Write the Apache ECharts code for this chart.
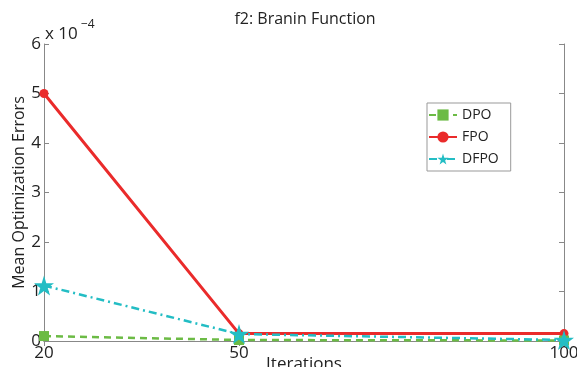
<!DOCTYPE html>
<html>
<head>
<meta charset="utf-8">
<script src="https://cdn.jsdelivr.net/npm/echarts@6/dist/echarts.min.js"></script>
<style>html,body{margin:0;padding:0;background:#fff}#c{width:577px;height:367px}</style>
</head>
<body>
<div id="c"></div>
<script>
// values in units of 10^-4
var iterations = [20, 50, 100];
var dpo = [0.10, 0.02, 0.01];
var fpo = [5.0, 0.15, 0.15];
var dfpo = [1.12, 0.14, 0.02];
var seriesNames = ['DPO', 'FPO', 'DFPO'];
var yTicks = [0, 1, 2, 3, 4, 5, 6];

var FONT = 'Open Sans';
var star = 'path://M50,0 L61,35 L98,35 L68,57 L79,91 L50,70 L21,91 L32,57 L2,35 L39,35 Z';
function pts(arr){ return iterations.map(function(x,i){ return [x, arr[i]]; }); }

var chart = echarts.init(document.getElementById('c'), null, {renderer:'canvas'});
var axisLine = {lineStyle:{color:'#888', width:1}};
chart.setOption({
  animation:false,
  backgroundColor:'#fff',
  title:{text:'f2: Branin Function', left:300, textAlign:'center', top:6,
    textStyle:{fontFamily:FONT, fontSize:16, fontWeight:'normal', color:'#222'}},
  grid:{left:44, right:13, top:44, bottom:26, outerBoundsMode:'none', containLabel:false},
  legend:{
    orient:'vertical', left:427, top:103,
    data:seriesNames,
    borderColor:'#999', borderWidth:1, borderRadius:0,
    padding:[5,12,5,1], itemGap:8, itemWidth:28, itemHeight:14,
    backgroundColor:'#fff',
    textStyle:{fontFamily:FONT, fontSize:14, color:'#222'}
  },
  xAxis:[{
    type:'value', min:20, max:100, position:'bottom',
    name:'Iterations', nameLocation:'middle', nameGap:15, nameMoveOverlap:false,
    nameTextStyle:{fontFamily:FONT, fontSize:17, color:'#222'},
    axisLine:axisLine, splitLine:{show:false},
    axisTick:{inside:true, length:5, customValues:iterations, lineStyle:{color:'#888'}},
    axisLabel:{customValues:iterations, fontFamily:FONT, fontSize:17, color:'#222', margin:4}
  },{
    type:'value', min:20, max:100, position:'top',
    axisLine:axisLine, splitLine:{show:false},
    axisTick:{inside:true, length:5, customValues:iterations, lineStyle:{color:'#888'}},
    axisLabel:{show:false}
  }],
  yAxis:[{
    type:'value', min:0, max:6, interval:1, position:'left',
    name:'Mean Optimization Errors', nameLocation:'middle', nameGap:17, nameMoveOverlap:false,
    nameTextStyle:{fontFamily:FONT, fontSize:16, color:'#222'},
    axisLine:Object.assign({show:true}, axisLine), splitLine:{show:false},
    axisTick:{show:true, inside:true, length:5, lineStyle:{color:'#888'}},
    axisLabel:{fontFamily:FONT, fontSize:17, color:'#222', margin:3,
      formatter:function(v){ return yTicks.indexOf(v)>=0 ? String(v) : ''; }}
  },{
    type:'value', min:0, max:6, interval:1, position:'right',
    axisLine:Object.assign({show:true}, axisLine), splitLine:{show:false},
    axisTick:{show:true, inside:true, length:5, lineStyle:{color:'#888'}},
    axisLabel:{show:false}
  }],
  graphic:[{
    type:'text', left:45, top:26,
    style:{text:'x 10', fontFamily:FONT, fontSize:17, fill:'#222'}
  },{
    type:'text', left:81, top:19,
    style:{text:'\u2212' + '4', fontFamily:FONT, fontSize:12, fill:'#222'}
  }],
  series:[{
    name:seriesNames[0], type:'line', data:pts(dpo),
    symbol:'rect', symbolSize:10, showAllSymbol:true,
    itemStyle:{color:'#6cbb45'},
    lineStyle:{color:'#6cbb45', width:2.5, type:[7,5]}, z:3
  },{
    name:seriesNames[1], type:'line', data:pts(fpo),
    symbol:'circle', symbolSize:9,
    itemStyle:{color:'#ea2b2b'},
    lineStyle:{color:'#ea2b2b', width:3}, z:2
  },{
    name:seriesNames[2], type:'line', data:pts(dfpo),
    symbol:star, symbolSize:20,
    itemStyle:{color:'#23bdc4'},
    lineStyle:{color:'#23bdc4', width:2.5, type:[8,4,2,4]}, z:4
  }]
});
</script>
</body>
</html>
